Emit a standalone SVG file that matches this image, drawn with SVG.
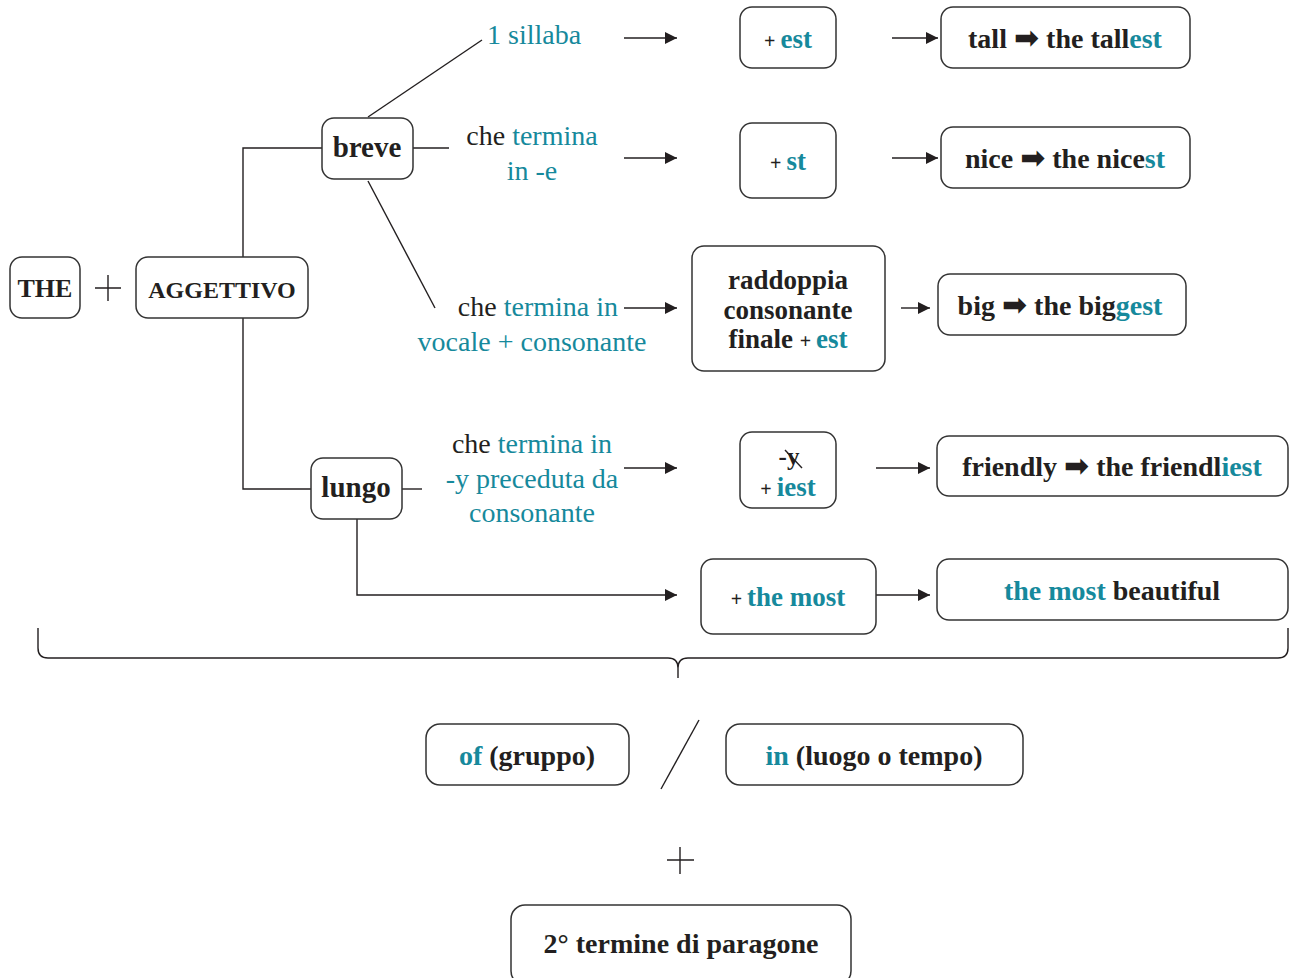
<svg xmlns="http://www.w3.org/2000/svg" width="1297" height="978" viewBox="0 0 1297 978">
<defs>
<style>
.box{fill:#fff;stroke:#333;stroke-width:1.5}
.ln{fill:none;stroke:#231f20;stroke-width:1.4}
.t{font-family:"Liberation Serif",serif;fill:#231f20}
.b{font-weight:bold}
.c{fill:#16899c}
.lbl{font-size:28px}
.m{text-anchor:middle}
.ar{font-family:"DejaVu Sans",sans-serif;font-size:30px}
</style>
<marker id="ah" viewBox="0 0 10 10" refX="10" refY="5" markerWidth="12" markerHeight="12" markerUnits="userSpaceOnUse" orient="auto">
<path d="M0,0 L10,5 L0,10 Z" fill="#231f20"/>
</marker>
</defs>
<rect width="1297" height="978" fill="#fff"/>

<g id="connectors">
<path class="ln" d="M243,257 V148 H322"/>
<path class="ln" d="M243,318 V489 H311"/>
<path class="ln" d="M368,117 L482,40"/>
<path class="ln" d="M413,148 H449"/>
<path class="ln" d="M368,181 L435,308"/>
<path class="ln" d="M402,489 H422"/>
<path class="ln" d="M357,519 V595 H677" marker-end="url(#ah)"/>
<path class="ln" d="M624,38 H677" marker-end="url(#ah)"/>
<path class="ln" d="M624,158 H677" marker-end="url(#ah)"/>
<path class="ln" d="M624,308 H677" marker-end="url(#ah)"/>
<path class="ln" d="M624,468 H677" marker-end="url(#ah)"/>
<path class="ln" d="M892,38 H938" marker-end="url(#ah)"/>
<path class="ln" d="M892,158 H938" marker-end="url(#ah)"/>
<path class="ln" d="M901,308 H930" marker-end="url(#ah)"/>
<path class="ln" d="M876,468 H930" marker-end="url(#ah)"/>
<path class="ln" d="M876,595 H930" marker-end="url(#ah)"/>
<path class="ln" stroke-width="2.4" d="M38,628 V648 Q38,658 48,658 H668 Q678,658 678,668 V678 M678,668 Q678,658 688,658 H1278 Q1288,658 1288,648 V628"/>
<path class="ln" stroke-width="2" d="M661,789 L699,720"/>
</g>

<g id="the"><rect class="box" x="10" y="257" width="70" height="61" rx="12"/><text class="t b m" x="45" y="297" font-size="26">THE</text></g>
<g id="plus1"><path class="ln" stroke-width="2.4" d="M95,288 H121 M108,275 V301"/></g>
<g id="aggettivo"><rect class="box" x="136" y="257" width="172" height="61" rx="12"/><text class="t b m" x="222" y="298" font-size="24">AGGETTIVO</text></g>
<g id="breve"><rect class="box" x="322" y="118" width="91" height="61" rx="12"/><text class="t b m" x="367" y="157" font-size="29">breve</text></g>
<g id="lungo"><rect class="box" x="311" y="458" width="91" height="61" rx="12"/><text class="t b m" x="356" y="497" font-size="29">lungo</text></g>

<g id="lbl-sillaba"><text class="t c lbl" x="487" y="44">1 sillaba</text></g>
<g id="lbl-e"><text class="t lbl m" x="532" y="145">che <tspan class="c">termina</tspan></text><text class="t c lbl m" x="532" y="180">in -e</text></g>
<g id="lbl-vc"><text class="t lbl" x="618" y="316" text-anchor="end">che <tspan class="c">termina in</tspan></text><text class="t c lbl m" x="532" y="351">vocale + consonante</text></g>
<g id="lbl-y"><text class="t lbl m" x="532" y="453">che <tspan class="c">termina in</tspan></text><text class="t c lbl m" x="532" y="488">-y preceduta da</text><text class="t c lbl m" x="532" y="522">consonante</text></g>

<g id="est"><rect class="box" x="740" y="7" width="96" height="61" rx="12"/><text class="t b m" x="788" y="48" font-size="27"><tspan font-size="20">+ </tspan><tspan class="c">est</tspan></text></g>
<g id="st"><rect class="box" x="740" y="123" width="96" height="75" rx="12"/><text class="t b m" x="788" y="170" font-size="27"><tspan font-size="20">+ </tspan><tspan class="c">st</tspan></text></g>
<g id="raddoppia"><rect class="box" x="692" y="246" width="193" height="125" rx="12"/><text class="t b m" x="788" y="289" font-size="27">raddoppia</text><text class="t b m" x="788" y="319" font-size="27">consonante</text><text class="t b m" x="788" y="348" font-size="27">finale <tspan font-size="20">+ </tspan><tspan class="c">est</tspan></text></g>
<g id="iest"><rect class="box" x="740" y="432" width="96" height="76" rx="12"/><text class="t b m" x="789" y="465" font-size="25">-y</text><path class="ln" stroke-width="2" d="M785,450 L802,468"/><text class="t b m" x="788" y="496" font-size="27"><tspan font-size="20">+ </tspan><tspan class="c">iest</tspan></text></g>
<g id="themost"><rect class="box" x="701" y="559" width="175" height="75" rx="12"/><text class="t b m" x="788" y="606" font-size="27"><tspan font-size="20">+ </tspan><tspan class="c">the most</tspan></text></g>

<g id="tall"><rect class="box" x="941" y="7" width="249" height="61" rx="12"/><text class="t b m" x="1065" y="48" font-size="28">tall <tspan class="ar">➡</tspan> the tall<tspan class="c">est</tspan></text></g>
<g id="nice"><rect class="box" x="941" y="127" width="249" height="61" rx="12"/><text class="t b m" x="1065" y="168" font-size="28">nice <tspan class="ar">➡</tspan> the nice<tspan class="c">st</tspan></text></g>
<g id="big"><rect class="box" x="938" y="274" width="248" height="61" rx="12"/><text class="t b m" x="1060" y="315" font-size="28">big <tspan class="ar">➡</tspan> the big<tspan class="c">gest</tspan></text></g>
<g id="friendly"><rect class="box" x="937" y="436" width="351" height="60" rx="12"/><text class="t b m" x="1112" y="476" font-size="28">friendly <tspan class="ar">➡</tspan> the friendl<tspan class="c">iest</tspan></text></g>
<g id="beautiful"><rect class="box" x="937" y="559" width="351" height="61" rx="12"/><text class="t b m" x="1112" y="600" font-size="28"><tspan class="c">the most</tspan> beautiful</text></g>

<g id="of"><rect class="box" x="426" y="724" width="203" height="61" rx="14"/><text class="t b m" x="527" y="765" font-size="28"><tspan class="c">of</tspan> (gruppo)</text></g>
<g id="in"><rect class="box" x="726" y="724" width="297" height="61" rx="14"/><text class="t b m" x="874" y="765" font-size="28"><tspan class="c">in</tspan> (luogo o tempo)</text></g>
<g id="plus2"><path class="ln" stroke-width="2.4" d="M667,860 H694 M680,847 V874"/></g>
<g id="secondo"><rect class="box" x="511" y="905" width="340" height="80" rx="14"/><text class="t b m" x="681" y="953" font-size="28">2° termine di paragone</text></g>
</svg>
